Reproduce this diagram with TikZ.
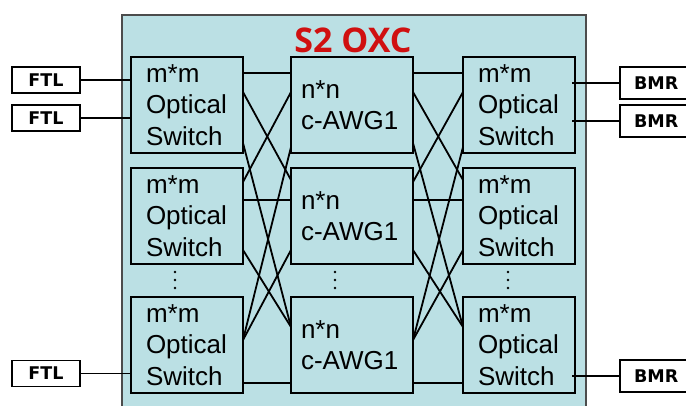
\documentclass[tikz,border=0pt]{standalone}
\usepackage{fontspec}
\setmainfont{Liberation Sans}
\newfontfamily\titlefont{Open Sans}
\newfontfamily\tagfont{DejaVu Sans}
\usetikzlibrary{positioning, calc}
\definecolor{oxcfill}{RGB}{187,224,228}
\definecolor{oxcred}{RGB}{208,16,16}
\tikzset{
  unit/.style={draw=black, line width=1.8pt, fill=oxcfill, align=left,
               inner ysep=0pt, outer sep=0pt, minimum height=96pt,
               font=\fontsize{26}{31.5}\selectfont},
  switchbox/.style={unit, text width=82pt, inner xsep=15pt},
  awgbox/.style={unit, text width=102pt, inner xsep=10pt},
  tag/.style={draw=black, line width=1.8pt, fill=white, outer sep=0pt,
              font=\tagfont\bfseries\fontsize{17.5}{20}\selectfont},
  link/.style={line width=1.8pt},
}

\begin{document}
\begin{tikzpicture}[x=1pt, y=-1pt]
  \clip (0,0) rectangle (686,405);
  \fill[white] (0,0) rectangle (686,405);
  % S2 OXC frame
  \node[draw=black!70, line width=2pt, fill=oxcfill, anchor=north west,
        minimum width=464pt, minimum height=420pt] (oxc) at (121,14) {};
  \node[font=\titlefont\bfseries\fontsize{34}{38}\selectfont, text=oxcred]
       (title) at ($(oxc.north)+(-1,26)$) {S2 OXC};
  % switches and AWGs
  \node[switchbox] (s1) at (187,105) {m*m\\Optical\\Switch};
  \node[switchbox, below=15pt of s1] (s2) {m*m\\Optical\\Switch};
  \node[switchbox, below=33pt of s2] (s3) {m*m\\Optical\\Switch};
  \node[awgbox, right=48pt of s1] (a1) {n*n\\c-AWG1};
  \node[awgbox, right=48pt of s2] (a2) {n*n\\c-AWG1};
  \node[awgbox, right=48pt of s3] (a3) {n*n\\c-AWG1};
  \node[switchbox, right=50pt of a1] (r1) {m*m\\Optical\\Switch};
  \node[switchbox, right=50pt of a2] (r2) {m*m\\Optical\\Switch};
  \node[switchbox, right=50pt of a3] (r3) {m*m\\Optical\\Switch};
  % vertical dots
  \foreach \n/\dx in {s2/-12, a2/-17, r2/-11}
    \foreach \dy in {8,16,24}
      \fill ($(\n.south)+(\dx,\dy)$) circle (1.3);
  % links between columns
  \foreach \p/\q in {s/a, a/r}
    \foreach \i/\u/\j/\v in {1/.167/1/.167, 1/.365/2/.125, 2/.146/1/.365,
                             1/.896/3/.3125, 2/.854/3/.3125, 3/.448/1/.9375,
                             3/.448/2/.854, 2/.333/2/.333, 3/.896/3/.896}
      \draw[link] ($(\p\i.north east)!\u!(\p\i.south east)$)
               -- ($(\q\j.north west)!\v!(\q\j.south west)$);
  % FTL sources
  \node[tag, minimum width=68pt, minimum height=26pt, inner sep=0pt] (f1) at (46,80) {FTL};
  \node[tag, minimum width=68pt, minimum height=26pt, inner sep=0pt] (f2) at (46,118) {FTL};
  \node[tag, minimum width=68pt, minimum height=26pt, inner sep=0pt] (f3) at (46,373.5) {FTL};
  \draw[link] (f1.east) -- (f1.east -| s1.west);
  \draw[link] (f2.east) -- (f2.east -| s1.west);
  \draw[link] (f3.east) -- (f3.east -| s3.west);
  % BMR receivers
  \node[tag, anchor=west, minimum height=32pt, inner xsep=14pt] (b1) at (620,83) {BMR};
  \node[tag, anchor=west, minimum height=32pt, inner xsep=14pt] (b2) at (620,121) {BMR};
  \node[tag, anchor=west, minimum height=32pt, inner xsep=14pt] (b3) at (620,376) {BMR};
  \draw[link] ($(b1.west -| r1.east)+(-3,0)$) -- (b1.west);
  \draw[link] ($(b2.west -| r1.east)+(-3,0)$) -- (b2.west);
  \draw[link] ($(b3.west -| r3.east)+(-3,0)$) -- (b3.west);
\end{tikzpicture}
\end{document}
